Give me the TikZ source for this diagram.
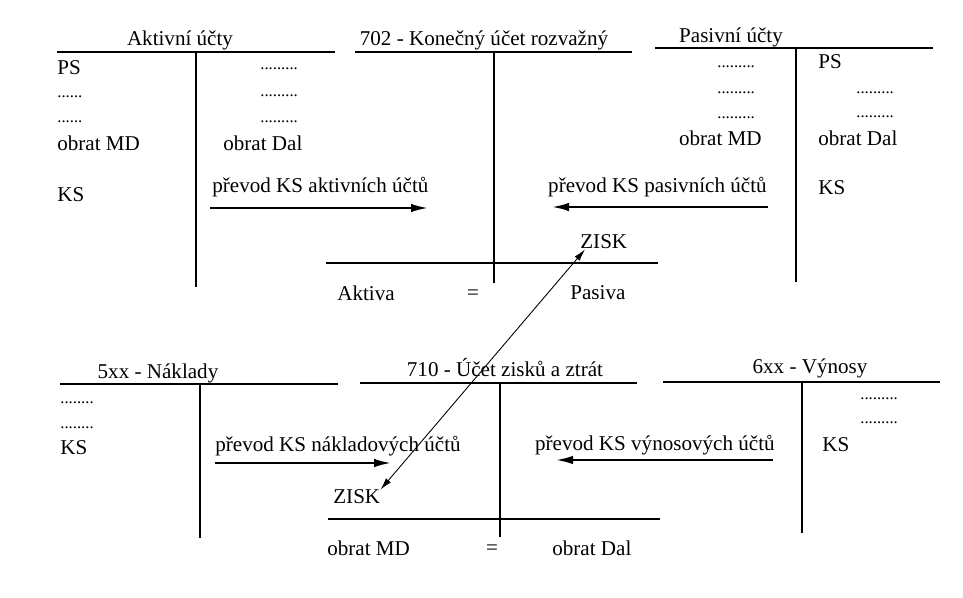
\documentclass[tikz,border=0pt]{standalone}
\usepackage{fontspec}
\setmainfont{Liberation Serif}
\usetikzlibrary{arrows.meta}

\begin{document}
\begin{tikzpicture}[x=0.02cm,y=-0.02cm,
	every node/.style={inner sep=0pt,font=\fontsize{12}{14}\selectfont},
	tecky/.style={anchor=base west,font=\fontsize{9.5}{10}\selectfont},
	konto/.style={line width=0.8pt},
	prevod/.style={line width=1.2pt,-{Latex[length=3.4mm,width=1.7mm]}},
	zisk/.style={line width=0.5pt,{Latex[length=2.4mm,width=1.3mm]}-{Latex[length=2.4mm,width=1.3mm]}}]

	\useasboundingbox (0,0) rectangle (963,598);

	% horni rada
	\node (ta) at (180,40) {Aktivní účty};
	\node (tk) at (484,40) {702 - Konečný účet rozvažný};
	\node (tp) at (731,37) {Pasivní účty};

	\draw[konto] (57,52) -- (335,52) (196,52) -- (196,287);
	\draw[konto] (355,52) -- (632,52) (494,52) -- (494,283) (326,263) -- (658,263);
	\draw[konto] (655,48) -- (933,48) (796,48) -- (796,282);

	\node[anchor=west] (aps) at (57,68) {PS};
	\node[tecky] (at1) at (57,97) {......};
	\node[tecky] (at2) at (57,122) {......};
	\node[anchor=west] (amd) at (57,143) {obrat MD};
	\node[anchor=west] (aks) at (57,195) {KS};
	\node[tecky] (at3) at (260,70) {.........};
	\node[tecky] (at4) at (260,96) {.........};
	\node[tecky] (at5) at (260,122) {.........};
	\node[anchor=west] (ad) at (223,143) {obrat Dal};
	\node[anchor=west] (apr) at (212,187) {převod KS aktivních účtů};

	\node[tecky] (pt1) at (717,68) {.........};
	\node[tecky] (pt2) at (717,93) {.........};
	\node[tecky] (pt3) at (717,118) {.........};
	\node[anchor=east] (pmd) at (762,138) {obrat MD};
	\node[anchor=west] (pps) at (818,62) {PS};
	\node[tecky] (pt4) at (856,93) {.........};
	\node[tecky] (pt5) at (856,117) {.........};
	\node[anchor=west] (pd) at (818,138) {obrat Dal};
	\node[anchor=west] (pks) at (818,188) {KS};
	\node[anchor=east] (ppr) at (767,187) {převod KS pasivních účtů};

	\node[anchor=west] (kzisk) at (580,242) {ZISK};
	\node[anchor=west] (kak) at (337,293) {Aktiva};
	\node (krov) at (473,295) {=};
	\node[anchor=west] (kpa) at (570,293) {Pasiva};

	\coordinate (a1) at (210,208);
	\coordinate (a2) at (428,208);
	\coordinate (p1) at (768,207);
	\coordinate (p2) at (552,207);

	% dolni rada
	\node (tn) at (158,373) {5xx - Náklady};
	\node (tz) at (505,368) {710 - Účet zisků a ztrát};
	\node (tv) at (810,368) {6xx - Výnosy};

	\draw[konto] (60,384) -- (338,384) (200,384) -- (200,538);
	\draw[konto] (360,383) -- (637,383) (500,383) -- (500,537) (328,519) -- (660,519);
	\draw[konto] (663,382) -- (940,382) (802,382) -- (802,533);

	\node[tecky] (nt1) at (60,403) {........};
	\node[tecky] (nt2) at (60,428) {........};
	\node[anchor=west] (nks) at (60,448) {KS};
	\node[anchor=west] (npr) at (215,446) {převod KS nákladových účtů};

	\node[tecky] (vt1) at (860,399) {.........};
	\node[tecky] (vt2) at (860,423) {.........};
	\node[anchor=west] (vks) at (822,445) {KS};
	\node[anchor=east] (vpr) at (775,445) {převod KS výnosových účtů};

	\node[anchor=west] (zzisk) at (333,497) {ZISK};
	\node[anchor=west] (zmd) at (327,548) {obrat MD};
	\node (zrov) at (492,550) {=};
	\node[anchor=west] (zd) at (552,548) {obrat Dal};

	\coordinate (n1) at (215,463);
	\coordinate (n2) at (391,463);
	\coordinate (v1) at (773,460);
	\coordinate (v2) at (556,460);

	\draw (a1) edge[prevod] (a2)
	(p1) edge[prevod] (p2)
	(n1) edge[prevod] (n2)
	(v1) edge[prevod] (v2)
	(zzisk.north east) edge[zisk] ([xshift=0.1cm]kzisk.south west);

\end{tikzpicture}
\end{document}
